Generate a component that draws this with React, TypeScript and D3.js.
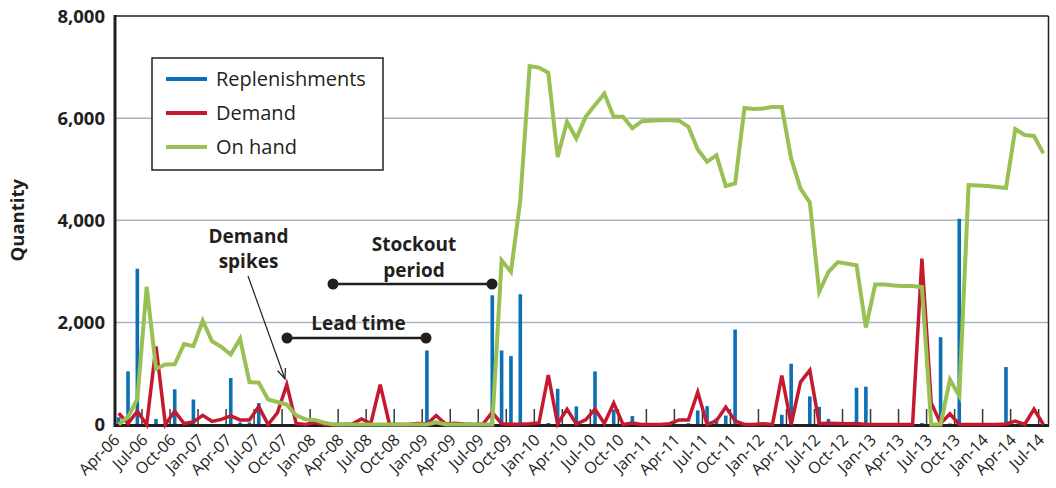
import React from "react";
import * as d3 from "d3";

// monthly categories Apr-06 .. Jul-14
const months = d3
  .timeMonth.range(new Date(2006, 3, 1), new Date(2014, 7, 1))
  .map(d3.timeFormat("%b-%y"));

const replenishments = [
  140, 1040, 3050, 0, 110, 0, 690, 0, 490, 0,
  0, 0, 910, 40, 40, 420, 0, 0, 0, 0,
  0, 40, 0, 0, 0, 0, 0, 0, 0, 0,
  0, 0, 0, 1450, 0, 0, 0, 0, 0, 0,
  2530, 1450, 1340, 2550, 0, 0, 30, 700, 0, 355,
  0, 1040, 0, 295, 0, 165, 0, 0, 0, 0,
  0, 25, 275, 360, 120, 175, 1860, 0, 0, 0,
  0, 190, 1190, 0, 550, 345, 110, 0, 0, 720,
  740, 0, 0, 0, 0, 0, 30, 0, 1710, 20,
  4030, 0, 0, 0, 0, 1125, 0, 0, 0, 0,
];

const demand = [
  220, 20, 260, 0, 1530, 0, 260, 20, 50, 180,
  60, 100, 170, 90, 90, 350, 0, 230, 780, 20,
  0, 40, 0, 0, 0, 10, 110, 20, 780, 0,
  0, 0, 20, 10, 175, 10, 25, 10, 0, 10,
  240, 15, 5, 5, 15, 30, 970, 10, 300, 10,
  90, 300, 20, 420, 0, 30, 0, 0, 0, 15,
  90, 90, 635, 0, 75, 340, 70, 0, 0, 15,
  0, 960, 0, 830, 1065, 20, 25, 20, 15, 20,
  0, 0, 0, 0, 0, 0, 3250, 420, 20, 210,
  0, 0, 0, 0, 0, 10, 65, 0, 300, 0,
];

const onHand = [
  0, 150, 500, 2700, 1090, 1175, 1180, 1575, 1535, 2030,
  1630, 1520, 1370, 1680, 830, 820, 490, 440, 390, 180,
  100, 90, 35, 0, 0, 0, 0, 0, 0, 0,
  0, 0, 0, 0, 45, 0, 0, 0, 0, 0,
  0, 3215, 2990, 4390, 7020, 6990, 6890, 5240, 5930, 5600,
  6025, 6255, 6480, 6025, 6025, 5800, 5940, 5950, 5960, 5960,
  5950, 5830, 5385, 5145, 5275, 4670, 4720, 6200, 6180, 6190,
  6220, 6220, 5210, 4620, 4350, 2600, 2990, 3180, 3150, 3120,
  1900, 2740, 2740, 2720, 2710, 2710, 2690, 0, 0, 880,
  560, 4690, 4680, 4670, 4650, 4630, 5785, 5670, 5650, 5310,
];

const yTicks = [0, 2000, 4000, 6000, 8000];
const legendItems = [
  { label: "Replenishments", color: "#0b70b4" },
  { label: "Demand", color: "#c41a30" },
  { label: "On hand", color: "#98c052" },
];

const W = 1056;
const H = 488;
const FONT = "'Open Sans', 'Noto Sans', sans-serif";
const INK = "#231f20";

export default function App() {
  const x = d3.scaleBand().domain(months).range([114, 1048]).padding(0);
  const y = d3.scaleLinear().domain([0, 8000]).range([424.5, 16]);
  const bw = x.bandwidth();
  const cx = (i: number) => (x(months[i]) as number) + bw / 2;

  const line = d3
    .line<number>()
    .x((_, i) => cx(i))
    .y((d) => y(d));

  const fmt = d3.format(",");
  const labelIdx = months.map((_, i) => i).filter((i) => i % 3 === 0);

  // arrow for "Demand spikes"
  const a0 = [248, 276];
  const a1 = [285, 379];
  const ang = Math.atan2(a1[1] - a0[1], a1[0] - a0[0]);
  const hl = 11;
  const head = [ang + Math.PI - 0.38, ang + Math.PI + 0.38].map((t) => [
    a1[0] + hl * Math.cos(t),
    a1[1] + hl * Math.sin(t),
  ]);

  return (
    <svg
      width={W}
      height={H}
      style={{ position: "absolute", left: 0, top: 0, background: "#fff" }}
      fontFamily={FONT}
    >
      {/* gridlines */}
      {yTicks.slice(1, -1).map((t) => (
        <line key={t} x1={114} x2={1048} y1={y(t)} y2={y(t)} stroke="#a9b6c0" strokeWidth={1.5} />
      ))}
      {/* top/right frame */}
      <line x1={114} x2={1048.5} y1={16} y2={16} stroke={INK} strokeWidth={1.5} />
      <line x1={1048.5} x2={1048.5} y1={16} y2={426} stroke={INK} strokeWidth={1.5} />

      {/* x tick marks inside */}
      {labelIdx.slice(1).map((i) => (
        <line
          key={i}
          x1={x(months[i]) as number}
          x2={x(months[i]) as number}
          y1={409}
          y2={425}
          stroke="#3a3a3a"
          strokeWidth={1.5}
        />
      ))}

      {/* bars */}
      {replenishments.map((v, i) =>
        v > 0 ? (
          <rect key={i} x={cx(i) - 1.8} width={3.6} y={y(v)} height={y(0) - y(v)} fill="#0b70b4" />
        ) : null
      )}

      {/* axes */}
      <line x1={114} x2={1049} y1={425.5} y2={425.5} stroke={INK} strokeWidth={3} />

      <path d={line(demand) || ""} fill="none" stroke="#c41a30" strokeWidth={3.5} strokeLinejoin="miter" />
      <path d={line(onHand) || ""} fill="none" stroke="#98c052" strokeWidth={4} strokeLinejoin="miter" />

      <line x1={115} x2={115} y1={15} y2={427} stroke={INK} strokeWidth={3} />

      {/* y labels */}
      {yTicks.map((t) => (
        <text
          key={t}
          x={105}
          y={y(t)}
          dy="0.36em"
          textAnchor="end"
          fontSize={18.5}
          fontWeight={700}
          fill={INK}
        >
          {fmt(t)}
        </text>
      ))}
      <text
        transform={`translate(24,${y(4000)}) rotate(-90)`}
        textAnchor="middle"
        fontSize={18.5}
        fontWeight={700}
        fill={INK}
      >
        Quantity
      </text>

      {/* x labels */}
      {labelIdx.map((i) => (
        <text
          key={i}
          transform={`translate(${cx(i) + 2},${441}) rotate(-45)`}
          textAnchor="end"
          fontSize={16}
          fill={INK}
        >
          {months[i]}
        </text>
      ))}

      {/* legend */}
      <rect x={152} y={58} width={231} height={112} fill="#fff" stroke={INK} strokeWidth={1.5} />
      {legendItems.map((d, k) => (
        <g key={d.label} transform={`translate(0,${79 + k * 34})`}>
          <line x1={166} x2={207} y1={0} y2={0} stroke={d.color} strokeWidth={4} />
          <text x={216} y={0} dy="0.36em" fontSize={20} fill={INK}>
            {d.label}
          </text>
        </g>
      ))}

      {/* annotations */}
      <g fontSize={19} fontWeight={700} fill={INK} textAnchor="middle">
        <text x={248.5} y={243}>Demand</text>
        <text x={248.5} y={268}>spikes</text>
        <text x={414} y={251}>Stockout</text>
        <text x={414} y={277}>period</text>
        <text x={358.5} y={330}>Lead time</text>
      </g>
      <line x1={333} x2={492} y1={284} y2={284} stroke={INK} strokeWidth={2.5} />
      <circle cx={333} cy={284} r={5.5} fill={INK} />
      <circle cx={492} cy={284} r={5.5} fill={INK} />
      <line x1={287} x2={426} y1={338} y2={338} stroke={INK} strokeWidth={2.5} />
      <circle cx={287} cy={338} r={5.5} fill={INK} />
      <circle cx={426} cy={338} r={5.5} fill={INK} />
      <line x1={a0[0]} y1={a0[1]} x2={a1[0]} y2={a1[1]} stroke={INK} strokeWidth={1.2} />
      <path
        d={`M${head[0][0]},${head[0][1]}L${a1[0]},${a1[1]}L${head[1][0]},${head[1][1]}`}
        fill="none"
        stroke={INK}
        strokeWidth={1.2}
      />
    </svg>
  );
}
